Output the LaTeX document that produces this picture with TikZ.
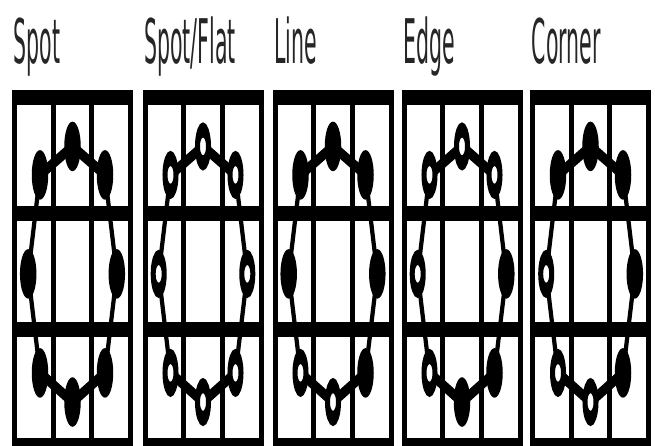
\documentclass[tikz,border=0pt]{standalone}
\usepackage{fontspec}
\setmainfont{DejaVu Sans}

\begin{document}
\begin{tikzpicture}[x=1pt, y=1pt,
    every node/.style={inner sep=0pt},
    capt/.style={font=\fontsize{20.5}{20.5}\selectfont, text=black!85, anchor=base west},
    gridbar/.style={line width=5pt},
    ringline/.style={line width=4pt},
    fdot/.style={circle, fill=black, minimum size=16.5pt},
    odot/.style={circle, draw=black, fill=white, line width=5pt, minimum size=11pt},
  ]
  \useasboundingbox (0,0) rectangle (655,-445);
  % the reference is stretched 3x in y, so draw square and stretch the canvas
  \begin{scope}[transform canvas={yscale=3}]
  \foreach \x/\txt/\pt/\ptr/\pr/\pbr/\pb/\pbl/\pl/\ptl [count=\i] in {
      12/Spot/fdot/fdot/fdot/fdot/fdot/fdot/fdot/fdot,
      142.5/{Spot/Flat}/odot/odot/odot/odot/odot/odot/odot/odot,
      272.5/Line/fdot/fdot/fdot/fdot/odot/odot/fdot/fdot,
      401.5/Edge/odot/odot/fdot/fdot/fdot/odot/odot/odot,
      530/Corner/fdot/fdot/fdot/fdot/odot/odot/odot/fdot}{
    \node[capt] (cap\i) at (\x+1.5,-21) {\txt};
    % 3x3 grid
    \draw[gridbar] (\x+2.5,-32.5) rectangle (\x+118.5,-148.5);
    \foreach \k in {1,2}{
      \draw[gridbar] (\x+2.5+38.67*\k,-32.5) -- (\x+2.5+38.67*\k,-148.5);
      \draw[gridbar] (\x+2.5,-32.5-38.67*\k) -- (\x+118.5,-32.5-38.67*\k);
    }
    % ring of eight samples
    \draw[ringline]
      (\x+60.5,-48.8) node[\pt] (dot\i-t) {}
      -- (\x+93,-58.3) node[\ptr] (dot\i-tr) {}
      -- (\x+104.8,-91.3) node[\pr] (dot\i-r) {}
      -- (\x+93,-124.3) node[\pbr] (dot\i-br) {}
      -- (\x+60.5,-134) node[\pb] (dot\i-b) {}
      -- (\x+28,-124.3) node[\pbl] (dot\i-bl) {}
      -- (\x+16.2,-91.3) node[\pl] (dot\i-l) {}
      -- (\x+28,-58.3) node[\ptl] (dot\i-tl) {}
      -- cycle;
  }
  \end{scope}
\end{tikzpicture}
\end{document}
